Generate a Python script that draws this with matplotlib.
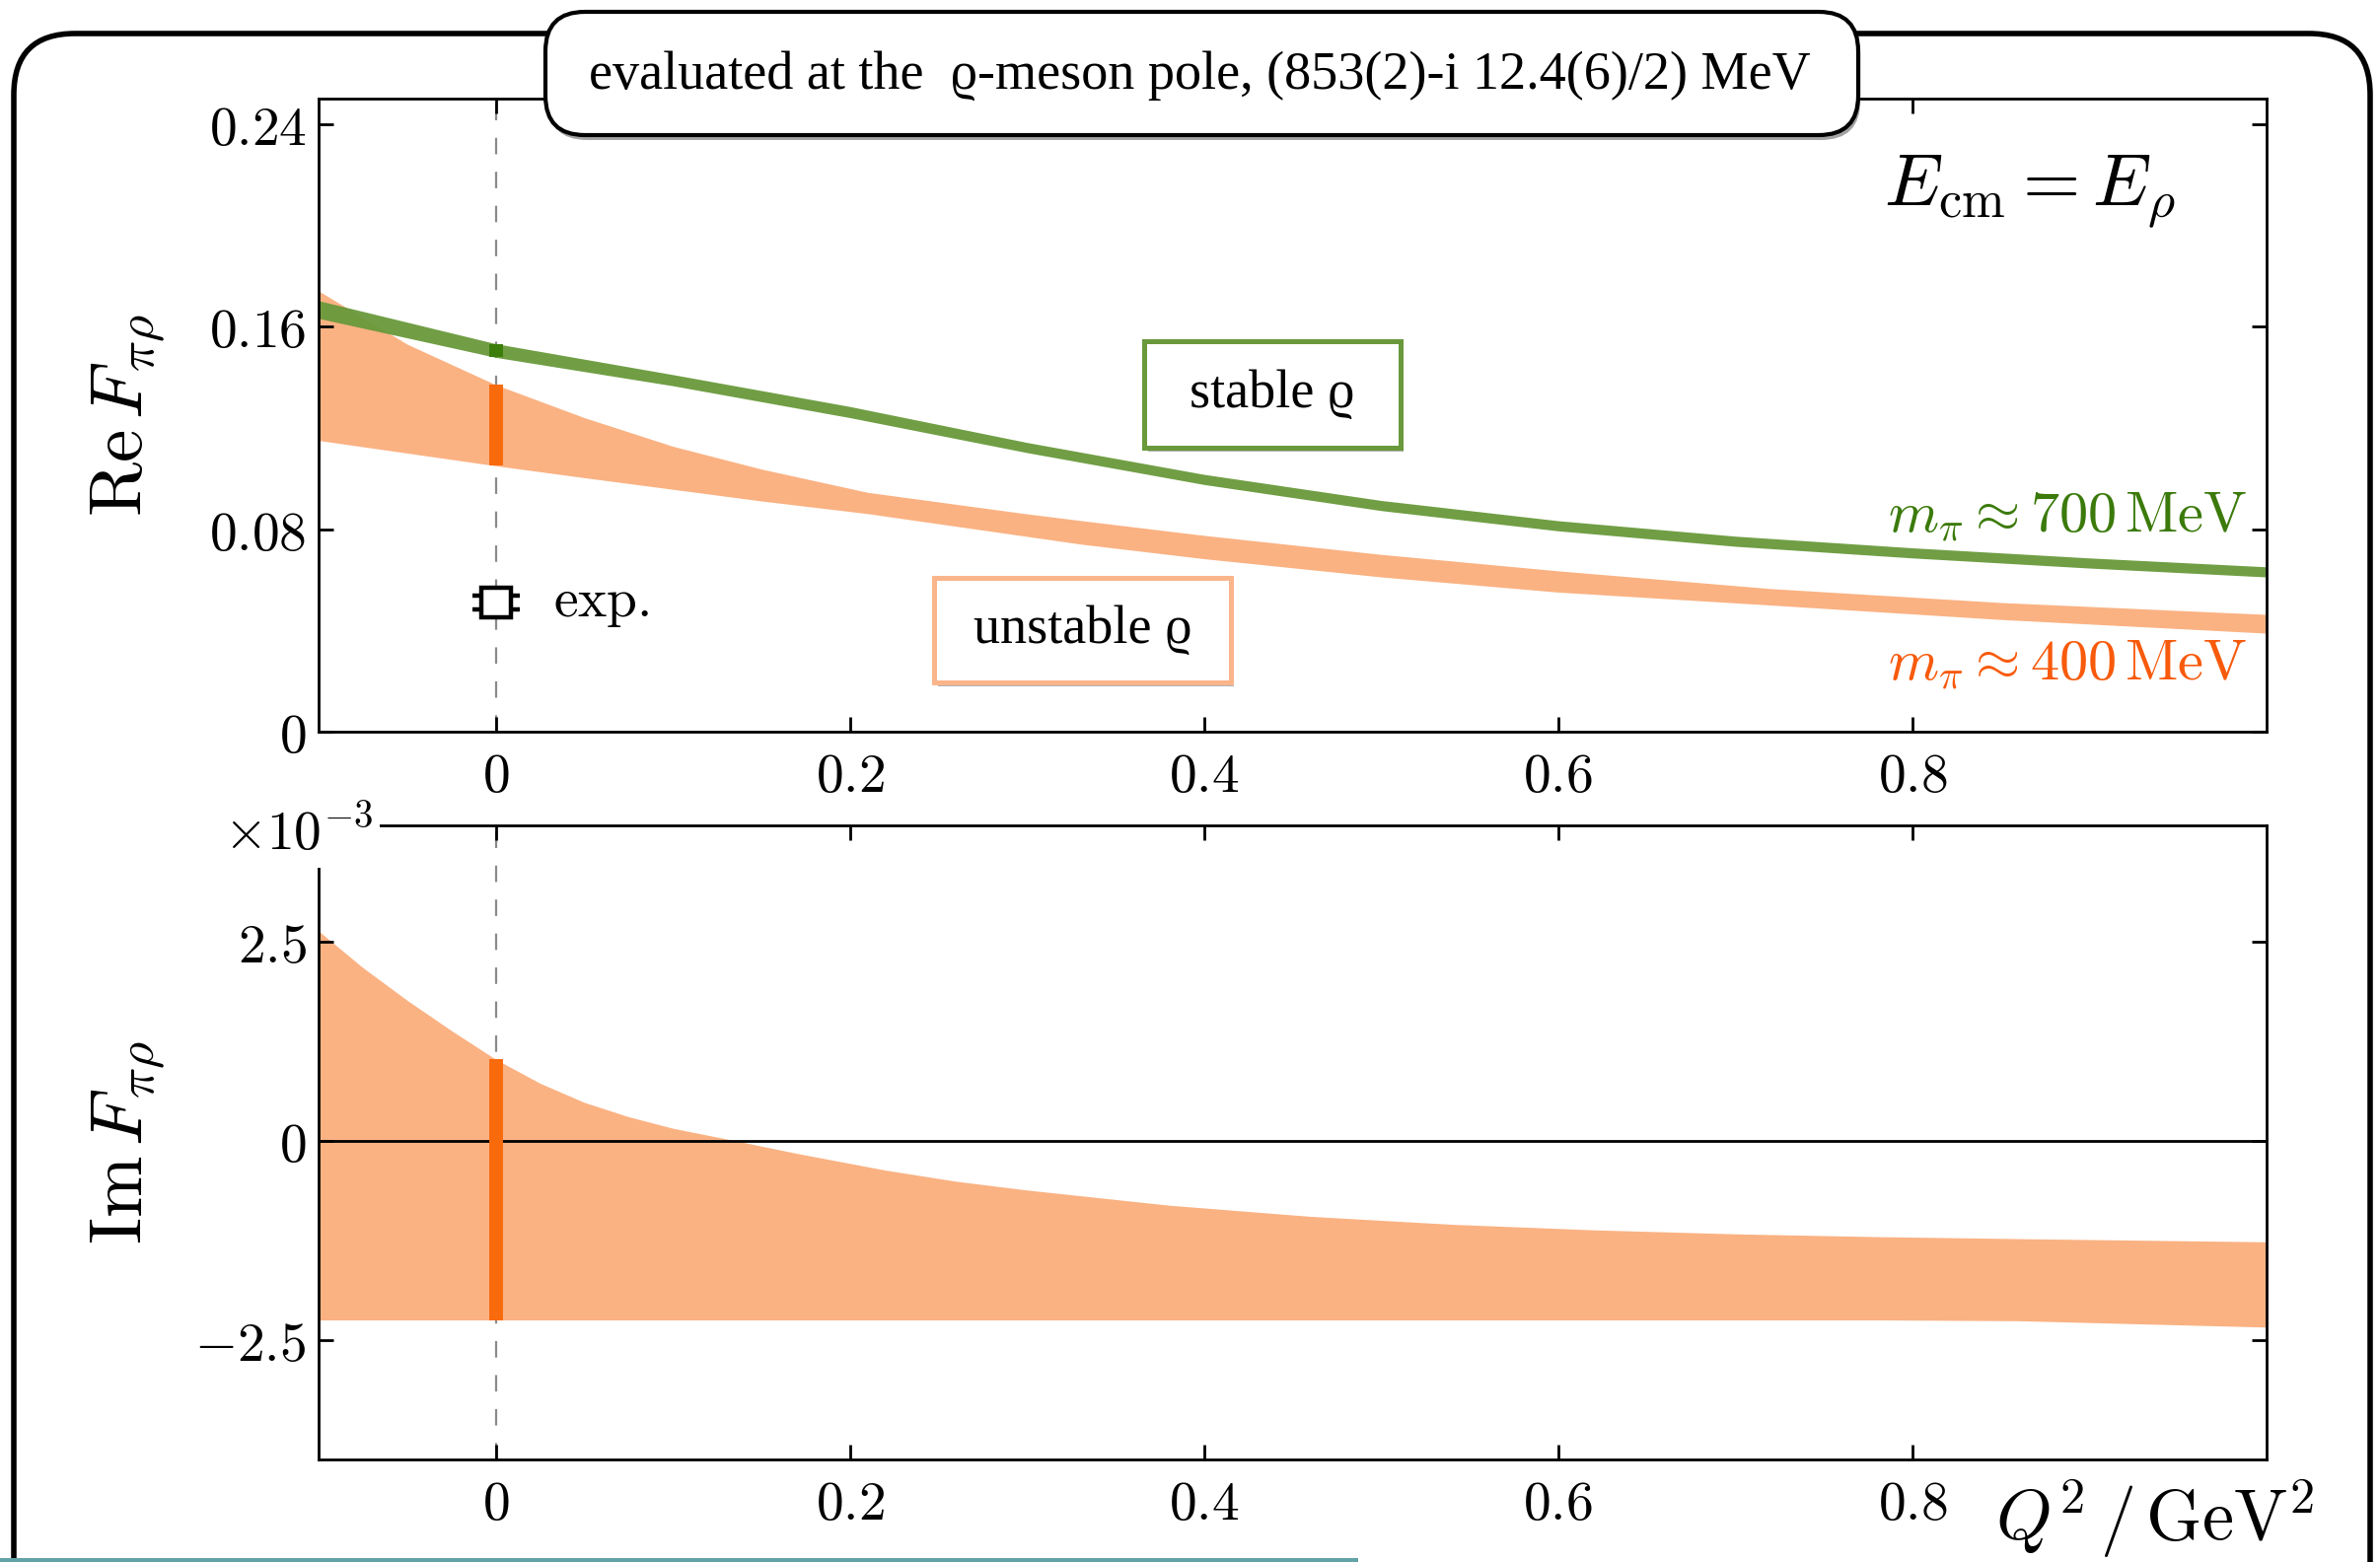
import numpy as np
import matplotlib
matplotlib.use("Agg")
import matplotlib.pyplot as plt
from matplotlib.patches import FancyBboxPatch, Rectangle
from matplotlib.ticker import FixedLocator, FuncFormatter
import matplotlib.patheffects as pe

plt.rcParams.update({
    "mathtext.fontset": "cm",
    "font.family": "DejaVu Serif",
    "axes.formatter.use_mathtext": True,
})

# ---- Re F_{pi rho}, m_pi ~ 700 MeV (stable rho): centre and half-width
q2_re700 = [-0.1, 0.0, 0.1, 0.2, 0.3, 0.4, 0.5, 0.6, 0.7, 0.8, 0.9, 1.0]
re700_mid = [0.1667, 0.1505, 0.1388, 0.1262, 0.1122, 0.0996, 0.0893, 0.0813,
             0.0752, 0.0706, 0.0666, 0.0631]
re700_err = [0.0035, 0.0027, 0.0022, 0.0022, 0.0020, 0.0020, 0.0020, 0.0020,
             0.0020, 0.0020, 0.0020, 0.0020]

# ---- Re F_{pi rho}, m_pi ~ 400 MeV (unstable rho): upper / lower edge
q2_re400 = [-0.1, -0.05, 0.0, 0.05, 0.1, 0.15, 0.21, 0.3, 0.33, 0.4, 0.5,
            0.6, 0.72, 0.85, 1.0]
re400_hi = [0.174, 0.153, 0.137, 0.1240, 0.1127, 0.1037, 0.0945, 0.0860,
            0.0834, 0.0775, 0.0700, 0.0635, 0.0565, 0.0510, 0.0463]
re400_lo = [0.115, 0.110, 0.105, 0.1003, 0.0957, 0.0911, 0.0861, 0.0771,
            0.0741, 0.0683, 0.0611, 0.0551, 0.0500, 0.0443, 0.0389]

# ---- Im F_{pi rho}, m_pi ~ 400 MeV, in units of 1e-3
q2_im400 = [-0.1, -0.075, -0.05, -0.025, 0.0, 0.025, 0.05, 0.075, 0.1, 0.135,
            0.17, 0.22, 0.26, 0.3, 0.38, 0.46, 0.54, 0.62, 0.70, 0.78, 0.86,
            0.93, 1.0]
im400_hi_e3 = [2.63, 2.17, 1.76, 1.38, 1.02, 0.72, 0.48, 0.30, 0.155, 0.0,
               -0.16, -0.37, -0.51, -0.62, -0.81, -0.95, -1.05, -1.12, -1.17,
               -1.205, -1.23, -1.25, -1.27]
im400_lo_e3 = [-2.25, -2.25, -2.25, -2.25, -2.25, -2.25, -2.25, -2.25, -2.25,
               -2.25, -2.25, -2.25, -2.25, -2.25, -2.25, -2.25, -2.25, -2.25,
               -2.25, -2.25, -2.26, -2.30, -2.34]

# ---- experimental point
q2_exp = [0.0]
re_exp = [0.0509]
re_exp_err = [0.0028]

# ---- axis ticks
x_ticks = [0, 0.2, 0.4, 0.6, 0.8]
re_ticks = [0, 0.08, 0.16, 0.24]
im_ticks_e3 = [-2.5, 0, 2.5]

C_GREEN_BAND = "#69993b"
C_GREEN_DARK = "#3c7d0c"
C_GREEN_TEXT = "#3b7a0b"
C_ORANGE_BAND = "#fab283"
C_ORANGE_DARK = "#f86a0c"
C_ORANGE_TEXT = "#f85a0c"
C_ORANGE_EDGE = "#fbb58b"

W, H, DPI = 2413, 1584, 200
fig = plt.figure(figsize=(W / DPI, H / DPI), dpi=DPI)

ax1 = fig.add_axes([0.1339, 0.5316, 0.8184, 0.4053])
ax2 = fig.add_axes([0.1339, 0.0657, 0.8184, 0.4056])

fmt_plain = FuncFormatter(lambda v, p: f"${v:g}$")
fmt_milli = FuncFormatter(lambda v, p: f"${round(v * 1e3, 4):g}$")

for ax in (ax1, ax2):
    ax.set_xlim(-0.1, 1.0)
    ax.xaxis.set_major_locator(FixedLocator(x_ticks))
    ax.xaxis.set_major_formatter(fmt_plain)
    ax.tick_params(direction="in", length=5.5, width=1.0, top=True,
                   right=True, labelsize=20)
    ax.tick_params(axis="x", pad=6.5)
    ax.tick_params(axis="y", pad=4.5)
    for s in ax.spines.values():
        s.set_linewidth(1.0)
    ax.axvline(0, color="#8a8a8a", lw=0.8, dashes=(7.5, 8.0), zorder=0.5)

# ---------------- upper panel: real part
ax1.set_ylim(0, 0.25)
ax1.yaxis.set_major_locator(FixedLocator(re_ticks))
ax1.yaxis.set_major_formatter(fmt_plain)

ax1.fill_between(q2_re400, re400_lo, re400_hi, color=C_ORANGE_BAND, lw=0,
                 zorder=1)
g_mid = np.array(re700_mid)
g_err = np.array(re700_err)
ax1.fill_between(q2_re700, g_mid - g_err, g_mid + g_err, color=C_GREEN_BAND,
                 alpha=0.95, lw=0, zorder=2)

i0 = q2_re400.index(0.0)
ax1.vlines(0, re400_lo[i0], re400_hi[i0], colors=C_ORANGE_DARK, lw=5,
           capstyle="butt", zorder=3)
j0 = q2_re700.index(0.0)
ax1.vlines(0, g_mid[j0] - g_err[j0], g_mid[j0] + g_err[j0],
           colors=C_GREEN_DARK, lw=5, capstyle="butt", zorder=3)

ax1.errorbar(q2_exp, re_exp, yerr=re_exp_err, fmt="s", ms=10.5,
             mfc="white", mec="black", mew=1.6, ecolor="black",
             elinewidth=1.2, capsize=8.8, capthick=1.2, zorder=8)
ax1.annotate(r"$\mathrm{exp.}$", xy=(q2_exp[0], re_exp[0]), xytext=(21, -5),
             textcoords="offset points", ha="left", va="baseline",
             fontsize=20)

ax1.set_ylabel(r"$\mathrm{Re}\,F_{\pi\rho}$", fontsize=27)
ax1.yaxis.set_label_coords(-0.078, 0.5)

ax1.text(0.953, 0.833, r"$E_\mathrm{cm} = E_\rho$", transform=ax1.transAxes,
         ha="right", va="baseline", fontsize=27)
ax1.text(0.990, 0.3146, r"$m_\pi \approx 700\,\mathrm{MeV}$",
         transform=ax1.transAxes, ha="right", va="baseline", fontsize=21,
         color=C_GREEN_TEXT)
ax1.text(0.990, 0.081, r"$m_\pi \approx 400\,\mathrm{MeV}$",
         transform=ax1.transAxes, ha="right", va="baseline", fontsize=21,
         color=C_ORANGE_TEXT)

shadow = [pe.SimplePatchShadow(offset=(1.2, -1.5), shadow_rgbFace="0.45",
                               alpha=0.55), pe.Normal()]
serif_fam = ["Liberation Serif", "DejaVu Serif"]


def label_box(ax, x0, y0, x1, y1, text, edge):
    box = Rectangle((x0, y0), x1 - x0, y1 - y0, transform=ax.transAxes,
                    facecolor="white", edgecolor=edge, lw=1.8, zorder=6)
    box.set_path_effects(shadow)
    ax.add_patch(box)
    ax.text((x0 + x1) / 2, (y0 + y1) / 2, text, transform=ax.transAxes,
            ha="center", va="center", fontsize=19.5, family=serif_fam,
            zorder=7)


label_box(ax1, 0.4240, 0.4490, 0.5553, 0.6164, "stable \u03f1", C_GREEN_BAND)
label_box(ax1, 0.3161, 0.0783, 0.4682, 0.2425, "unstable \u03f1",
          C_ORANGE_EDGE)

# ---------------- lower panel: imaginary part
im_hi = np.array(im400_hi_e3) * 1e-3
im_lo = np.array(im400_lo_e3) * 1e-3
ax2.set_ylim(-4.0e-3, 3.95e-3)
ax2.yaxis.set_major_locator(FixedLocator(np.array(im_ticks_e3) * 1e-3))
ax2.yaxis.set_major_formatter(fmt_milli)

ax2.fill_between(q2_im400, im_lo, im_hi, color=C_ORANGE_BAND, lw=0, zorder=1)
ax2.axhline(0, color="black", lw=1.0, zorder=2)
k0 = q2_im400.index(0.0)
ax2.vlines(0, im_lo[k0], im_hi[k0], colors=C_ORANGE_DARK, lw=5,
           capstyle="butt", zorder=3)

ax2.set_ylabel(r"$\mathrm{Im}\,F_{\pi\rho}$", fontsize=27)
ax2.yaxis.set_label_coords(-0.078, 0.5)
ax2.text(0.028, 0.963, r"$\times10^{-3}$", transform=ax2.transAxes,
         ha="right", va="baseline", fontsize=20, zorder=10,
         bbox=dict(boxstyle="square,pad=0.12", fc="white", ec="none"))
ax2.text(1.0248, -0.128, r"$Q^2\,/\,\mathrm{GeV}^2$", transform=ax2.transAxes,
         ha="right", va="baseline", fontsize=26, clip_on=False)

# ---------------- frame, header box and bottom rule
inch = fig.dpi_scale_trans
frame = FancyBboxPatch((14 / DPI, -0.5), (2403 - 14) / DPI,
                       (H - 34) / DPI + 0.5,
                       boxstyle="round,pad=0,rounding_size=0.31",
                       transform=inch, fill=False, ec="black", lw=2.0,
                       zorder=2)
fig.add_artist(frame)

hx0, hx1 = 553 / DPI, 1884 / DPI
hy0, hy1 = (H - 137) / DPI, (H - 12) / DPI
header = FancyBboxPatch((hx0, hy0), hx1 - hx0, hy1 - hy0,
                        boxstyle="round,pad=0,rounding_size=0.2",
                        transform=inch, fc="white", ec="black", lw=1.5,
                        zorder=10)
header.set_path_effects([pe.SimplePatchShadow(offset=(0.8, -1.8),
                                              shadow_rgbFace="0.4",
                                              alpha=0.6), pe.Normal()])
fig.add_artist(header)
fig.text(1216 / DPI, (H - 77) / DPI,
         "evaluated at the  \u03f1-meson pole, (853(2)-i 12.4(6)/2) MeV",
         transform=inch, ha="center", va="center", fontsize=19.5,
         family=serif_fam, zorder=11)

rule = Rectangle((0, 0), 1377 / DPI, 4.5 / DPI, transform=inch,
                 fc="#62a3a8", ec="none", zorder=3)
fig.add_artist(rule)

fig.savefig("out.png", dpi=DPI)
